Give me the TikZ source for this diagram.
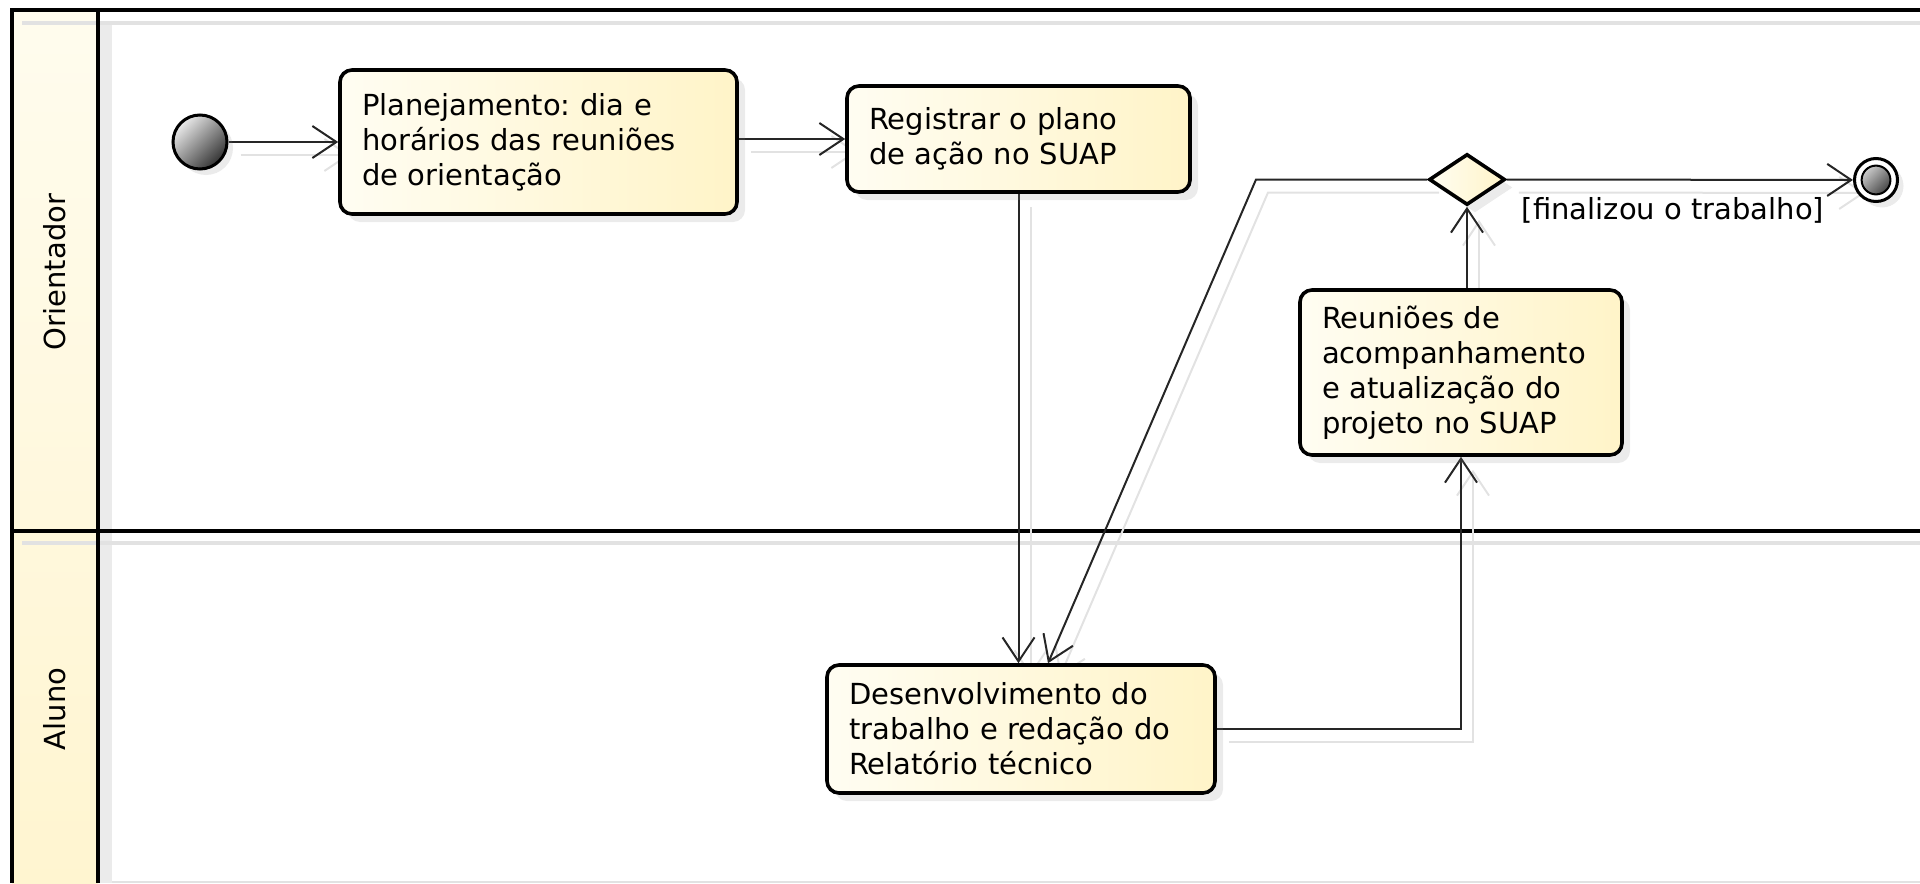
\documentclass[tikz,border=0pt]{standalone}
\usepackage{fontspec}
\setmainfont{DejaVu Sans}
\usetikzlibrary{arrows.meta,shapes.geometric,shadows,calc}
\definecolor{boxA}{HTML}{FFFDF2}
\definecolor{boxB}{HTML}{FFF4C8}
\definecolor{hdrA}{HTML}{FFFCEE}
\definecolor{hdrB}{HTML}{FFF5D0}
\definecolor{shad}{HTML}{E2E2E2}
\pgfdeclarelayer{lanes}
\pgfdeclarelayer{conn}
\pgfsetlayers{lanes,conn,main}
\frenchspacing
\begin{document}
\begin{tikzpicture}[x=0.5pt,y=-0.5pt,
  font=\fontsize{14.5}{17.5}\selectfont\frenchspacing,
  act/.style={rectangle, rounded corners=6pt, draw=black, line width=1.8pt,
    left color=boxA, right color=boxB, align=left, inner xsep=11pt, inner ysep=0pt,
    drop shadow={shadow xshift=4pt,shadow yshift=-4pt,opacity=0.16}},
  flow/.style={draw=black!85, line width=1pt,
    -{Straight Barb[length=12pt,width=16pt,line width=1pt]},
    preaction={draw=shad, line width=1pt, transform canvas={shift={(12,13)}}}},
  lane/.style={line width=1.8pt, draw=black},
  startnode/.style={circle, draw=black, line width=1.5pt, minimum size=27pt, inner sep=0pt,
    top color=gray!15, bottom color=black!80, shading angle=45,
    drop shadow={shadow xshift=3pt,shadow yshift=-3pt,opacity=0.16}},
  endnode/.style={circle, draw=black, line width=1.5pt, minimum size=21.5pt, inner sep=0pt, fill=white,
    drop shadow={shadow xshift=3pt,shadow yshift=-3pt,opacity=0.16},
    path picture={\shade[top color=gray!15, bottom color=black!85, shading angle=45]
      (path picture bounding box.center) circle (7.2pt);
      \draw[line width=1pt] (path picture bounding box.center) circle (7.2pt);}},
  decision/.style={diamond, draw=black, line width=1.8pt, minimum width=38pt, minimum height=25.5pt,
    inner sep=0pt, left color=boxA, right color=boxB,
    drop shadow={shadow xshift=4pt,shadow yshift=-4pt,opacity=0.16}},
  lanelabel/.style={rotate=90, anchor=center},
]
\useasboundingbox (0,0) rectangle (1920,883);

% lanes
\begin{pgfonlayer}{lanes}
  \shade[top color=hdrA, bottom color=hdrB] (12,10) rectangle (98,883);
  \fill[shad!70] (100,23) rectangle (112,883);
  \draw[shad, line width=2pt] (22,23) -- (1920,23);
  \draw[shad, line width=2pt] (22,543) -- (1920,543);
  \draw[shad, line width=1pt] (112,882) -- (1920,882);
  \draw[lane] (1920,10) -- (12,10) -- (12,883);
  \draw[lane] (98,10) -- (98,883);
  \draw[lane] (12,531) -- (1920,531);
\end{pgfonlayer}

\node[lanelabel] (lo) at (55,272) {Orientador};
\node[lanelabel] (la) at (55,709) {Aluno};

% nodes
\node[startnode] (init) at (200,142) {};
\node[act, text width=176.5pt, minimum height=72pt] (plan) at (538.5,142)
  {Planejamento: dia e\\horários das reuniões\\de orientação};
\node[act, text width=149.5pt, minimum height=53pt] (reg) at (1018.5,139)
  {Registrar o plano\\de ação no SUAP};
\node[decision] (dec) at (1467,179.5) {};
\node[endnode] (final) at (1876,180) {};
\node[act, text width=139pt, minimum height=82.5pt] (reun) at (1461,372.5)
  {Reuniões de\\acompanhamento\\e atualização do\\projeto no SUAP};
\node[act, text width=172pt, minimum height=64pt] (dev) at (1021,729)
  {Desenvolvimento do\\trabalho e redação do\\Relatório técnico};
\coordinate (bend) at (1256,179.5);

% connectors
\begin{pgfonlayer}{conn}
  \draw[flow] (init) -- (plan);
  \draw[flow] (plan.east |- reg.west) -- (reg.west);
  \draw[flow] (reg.south) -- (reg.south |- dev.north);
  \draw[flow] (dev.east) -| (reun.south);
  \draw[flow] (reun.north -| dec.south) -- (dec.south);
  \draw[flow] (dec.west) -- (bend) -- ([xshift=13.5pt]dev.north);
  \draw[flow] (dec.east) -- node[pos=0.48, yshift=-15.5pt, text=black] (guard) {[finalizou o trabalho]} (final);
\end{pgfonlayer}
\end{tikzpicture}
\end{document}
